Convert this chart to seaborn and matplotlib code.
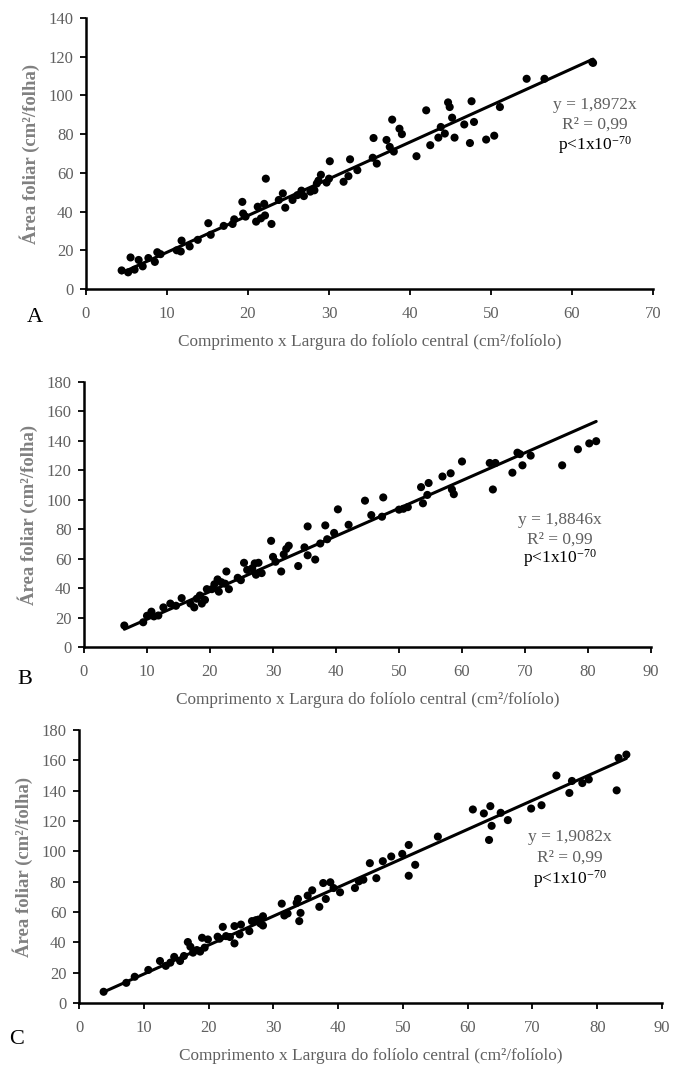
import numpy as np
import pandas as pd
import matplotlib
matplotlib.use("Agg")
import matplotlib.pyplot as plt
import seaborn as sns

# ---------------- data ----------------
xa = [4.4, 5.2, 5.5, 6.0, 6.5, 7.0, 7.7, 8.5, 8.8, 9.2, 11.2, 11.7, 11.8, 12.8, 13.8,
      15.1, 15.4, 17.0, 18.1, 18.3, 19.3, 19.4, 19.7, 21.0, 21.2, 21.6, 22.0, 22.1, 22.2,
      22.9, 23.8, 24.3, 24.6, 25.5, 26.1, 26.6, 26.9, 27.7, 28.2, 28.5, 28.7, 29.0, 29.7,
      30.0, 30.1, 31.8, 32.4, 32.6, 33.5, 35.4, 35.5, 35.9, 37.1, 37.5, 37.8, 38.0, 38.7,
      39.0, 40.8, 42.0, 42.5, 43.5, 43.8, 44.3, 44.7, 44.9, 45.2, 45.5, 46.7, 47.4, 47.6,
      47.9, 49.4, 50.4, 51.1, 54.4, 56.6, 62.5, 62.6]
ya = [9.6, 8.6, 16.3, 10.0, 15.0, 11.7, 16.0, 14.0, 19.0, 18.0, 20.0, 19.4, 25.0, 22.0, 25.4,
      34.0, 28.0, 32.6, 33.6, 36.0, 45.0, 39.0, 37.4, 34.8, 42.5, 36.5, 44.0, 38.0, 57.0,
      33.6, 46.0, 49.4, 42.0, 46.0, 48.5, 50.8, 48.0, 50.3, 51.0, 54.5, 56.0, 59.0, 55.0,
      57.0, 66.0, 55.4, 58.3, 67.0, 61.4, 67.8, 78.0, 64.8, 77.0, 73.4, 87.5, 71.0, 82.8,
      80.0, 68.6, 92.3, 74.3, 78.2, 83.7, 80.3, 96.4, 94.0, 88.5, 78.2, 85.0, 75.4, 97.0,
      86.3, 77.2, 79.2, 94.0, 108.6, 108.6, 117.2, 116.8]

xb = [6.4, 9.4, 10.0, 10.7, 11.1, 11.8, 12.6, 13.7, 14.6, 15.5, 16.9, 17.5, 17.9, 18.4, 18.7,
      19.2, 19.5, 20.3, 20.7, 21.2, 21.4, 21.8, 22.4, 22.6, 23.0, 24.4, 24.9, 25.4, 25.9,
      26.7, 27.1, 27.3, 27.7, 28.2, 29.7, 30.0, 30.4, 31.3, 31.7, 32.1, 32.5, 34.0, 35.0,
      35.5, 35.5, 36.7, 37.5, 38.3, 38.6, 39.7, 40.3, 42.0, 44.6, 45.6, 47.3, 47.5, 50.0,
      50.7, 51.4, 53.5, 53.8, 54.5, 54.7, 56.9, 58.2, 58.4, 58.7, 60.0, 64.4, 64.9, 65.3,
      68.0, 68.8, 69.2, 69.6, 70.9, 75.9, 78.4, 80.2, 81.3]
yb = [14.6, 16.8, 21.2, 24.0, 20.8, 21.4, 26.9, 29.5, 28.0, 33.2, 29.5, 26.9, 32.8, 35.0, 29.5,
      32.0, 39.3, 39.3, 42.6, 45.9, 37.6, 44.0, 43.0, 51.3, 39.3, 47.0, 45.4, 57.2, 52.4,
      53.5, 56.8, 49.1, 57.2, 50.2, 72.1, 61.2, 57.9, 51.3, 62.9, 66.6, 68.8, 55.0, 67.7,
      81.9, 62.3, 59.4, 70.3, 82.6, 73.2, 77.5, 93.5, 83.0, 99.4, 89.6, 88.5, 101.6, 93.3,
      93.9, 95.0, 108.6, 97.6, 103.3, 111.4, 115.8, 118.0, 107.0, 103.8, 126.0, 125.0, 107.0, 125.0,
      118.4, 132.0, 131.0, 123.4, 130.0, 123.4, 134.3, 138.3, 139.8]

xc = [3.8, 7.3, 8.6, 10.7, 12.5, 13.4, 14.1, 14.7, 15.6, 16.2, 16.8, 17.2, 17.6, 18.2, 18.7,
      19.0, 19.4, 19.9, 21.4, 21.7, 22.2, 22.7, 23.3, 24.0, 24.0, 24.8, 25.0, 26.3, 26.7,
      27.3, 27.7, 28.0, 28.4, 28.4, 31.3, 31.7, 32.2, 33.6, 33.8, 34.0, 34.2, 35.3, 36.0,
      37.1, 37.7, 38.1, 38.8, 39.3, 40.3, 42.6, 43.2, 43.9, 44.9, 45.9, 46.9, 48.2, 49.9,
      50.9, 50.9, 51.9, 55.4, 60.8, 62.5, 63.5, 63.3, 63.7, 65.1, 66.2, 69.8, 71.4, 73.7,
      75.7, 76.1, 77.7, 78.7, 83.0, 83.3, 84.5]
yc = [7.4, 13.3, 17.3, 21.8, 27.7, 24.5, 26.6, 30.4, 27.7, 31.0, 40.2, 37.1, 33.2, 34.9, 33.9,
      43.0, 36.5, 41.9, 43.7, 42.4, 50.2, 44.1, 43.5, 39.3, 50.7, 45.2, 51.7, 47.4, 54.0,
      54.6, 55.0, 52.4, 57.2, 51.1, 65.5, 57.7, 59.0, 66.0, 68.6, 54.0, 59.4, 70.8, 74.3,
      63.4, 79.1, 68.6, 79.6, 75.8, 73.0, 75.8, 80.2, 81.3, 92.2, 82.3, 93.5, 96.6, 98.3,
      104.2, 83.9, 91.1, 109.7, 127.6, 125.0, 129.8, 107.5, 116.8, 125.4, 120.6, 128.2, 130.4, 150.0,
      138.5, 146.4, 145.0, 147.4, 140.2, 161.6, 163.8]

slopes = [1.8972, 1.8846, 1.9082]
eq_labels = ["y = 1,8972x", "y = 1,8846x", "y = 1,9082x"]
r2_label = "R² = 0,99"
p_label = r"p<1x10$^{\mathrm{-70}}$"
panel_letters = ["A", "B", "C"]
xmax_list = [70, 90, 90]
ymax_list = [140, 180, 180]
xlabel = "Comprimento x Largura do folíolo central (cm²/folíolo)"
ylabel = "Área foliar (cm²/folha)"

# ---------------- style ----------------
sns.set_style("ticks")
plt.rcParams["font.family"] = ["Liberation Serif", "DejaVu Serif"]
plt.rcParams["mathtext.fontset"] = "custom"
plt.rcParams["mathtext.rm"] = "Liberation Serif"
plt.rcParams["mathtext.it"] = "Liberation Serif:italic"

W, H = 673, 1068
fig = plt.figure(figsize=(W / 100, H / 100), dpi=100)

# axes rectangles in pixels: left, right(x max), top(y max), bottom(y=0)
rects = [(86, 653, 18, 289), (84, 651, 382, 647), (79, 662, 730, 1003)]
ann_pos = [(0.898, [0.679, 0.605, 0.531]),
           (0.840, [0.479, 0.404, 0.336]),
           (0.842, [0.608, 0.531, 0.454])]
letter_pos = [(35, 318), (25, 680), (17, 1040)]

tick_color = "#606060"
datasets = [(xa, ya), (xb, yb), (xc, yc)]

for i, (xs, ys) in enumerate(datasets):
    l, r, t, b = rects[i]
    ax = fig.add_axes([l / W, 1 - b / H, (r - l) / W, (b - t) / H])
    df = pd.DataFrame({"x": xs, "y": ys})
    sns.scatterplot(data=df, x="x", y="y", ax=ax, color="black", s=34,
                    edgecolor="none", zorder=3)
    xl = np.array([min(xs), max(xs)])
    sns.lineplot(x=xl, y=slopes[i] * xl, ax=ax, color="black", lw=2.2, zorder=4)
    ax.set_xlim(0, xmax_list[i])
    ax.set_ylim(0, ymax_list[i])
    ax.set_xticks(np.arange(0, xmax_list[i] + 1, 10))
    ax.set_yticks(np.arange(0, ymax_list[i] + 1, 20))
    sns.despine(ax=ax)
    for s in ["left", "bottom"]:
        ax.spines[s].set_linewidth(1.8)
        ax.spines[s].set_color("black")
    ax.tick_params(axis="both", direction="out", length=4, width=1.3, color="black",
                   labelsize=12, labelcolor=tick_color, pad=5)
    ax.tick_params(axis="x", pad=8)
    ax.set_xlabel(xlabel, fontsize=12.4, color=tick_color, labelpad=9)
    ax.set_ylabel(ylabel, fontsize=13.5, color="#808080", fontweight="bold", labelpad=6)
    ax.grid(False)
    ax.set_facecolor("white")
    for c in ax.collections:
        c.set_clip_on(False)
    for ln in ax.lines:
        ln.set_clip_on(False)
    xc_, ys_ = ann_pos[i]
    ax.text(xc_, ys_[0], eq_labels[i], transform=ax.transAxes, ha="center", va="center",
            fontsize=12.5, color=tick_color)
    ax.text(xc_, ys_[1], r2_label, transform=ax.transAxes, ha="center", va="center",
            fontsize=12.5, color=tick_color)
    ax.text(xc_, ys_[2], p_label, transform=ax.transAxes, ha="center", va="center",
            fontsize=12.5, color="black")
    lx, ly = letter_pos[i]
    fig.text(lx / W, 1 - ly / H, panel_letters[i], ha="center", va="center",
             fontsize=16, color="black")

fig.savefig("out.png", dpi=100, facecolor="white")
